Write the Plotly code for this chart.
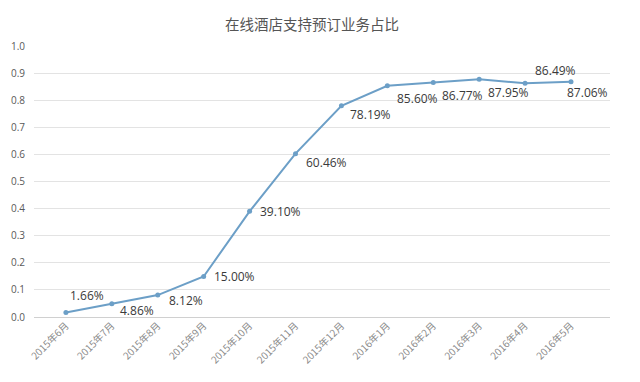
import plotly.graph_objects as go

categories = ["2015年6月", "2015年7月", "2015年8月", "2015年9月", "2015年10月", "2015年11月",
              "2015年12月", "2016年1月", "2016年2月", "2016年3月", "2016年4月", "2016年5月"]
values = [0.0166, 0.0486, 0.0812, 0.1500, 0.3910, 0.6046, 0.7819, 0.8560, 0.8677, 0.8795, 0.8649, 0.8706]
labels = ["1.66%", "4.86%", "8.12%", "15.00%", "39.10%", "60.46%", "78.19%",
          "85.60%", "86.77%", "87.95%", "86.49%", "87.06%"]
y_ticks = [0.0, 0.1, 0.2, 0.3, 0.4, 0.5, 0.6, 0.7, 0.8, 0.9, 1.0]

# label offsets in pixels (x shift from point, y shift upward)
label_dx = [2, 6, 9, 8, 8, 8, 7, 8, 7, 7, 8, -6]
label_dy = [17, -7, -5, 0, 0, -9, -9, -13, -13, -13, 13, -11]

font_family = "Open Sans, Noto Sans CJK SC, sans-serif"
line_color = "#6c9fc7"

fig = go.Figure()
fig.add_trace(go.Scatter(
    x=categories, y=values, mode="lines+markers",
    line=dict(color=line_color, width=2),
    marker=dict(color=line_color, size=5),
    hoverinfo="skip", showlegend=False,
))

for c, v, t, dx, dy in zip(categories, values, labels, label_dx, label_dy):
    fig.add_annotation(x=c, y=v, text=t, showarrow=False, xanchor="left", yanchor="middle",
                       xshift=dx, yshift=dy,
                       font=dict(family=font_family, size=12, color="#3a3a3a"))

fig.update_layout(
    width=640, height=382,
    margin=dict(l=34, r=30, t=46, b=65, autoexpand=False),
    paper_bgcolor="white", plot_bgcolor="white",
    title=dict(text="在线酒店支持预订业务占比", x=0.4875, xanchor="center", y=0.935, yanchor="middle",
               font=dict(family="Noto Sans CJK SC, sans-serif", size=14.5, color="#555555")),
    font=dict(family=font_family, color="#595959"),
)
fig.update_xaxes(
    type="category", tickangle=-45, showgrid=False, showline=False, ticks="", automargin=False,
    tickfont=dict(family="Noto Sans CJK SC, sans-serif", size=10, color="#8a8a8a"),
)
fig.update_yaxes(
    range=[0, 1.003], tickvals=y_ticks, tickformat=".1f", showgrid=True, gridcolor="#e3e3e3",
    zeroline=True, zerolinecolor="#d0d0d0", zerolinewidth=1, showline=False, ticks="", automargin=False,
    ticklabelstandoff=8,
    tickfont=dict(size=10, color="#595959"),
)

fig.write_html("out.html", config={"displayModeBar": False},
               post_script="document.body.style.margin='0';")
